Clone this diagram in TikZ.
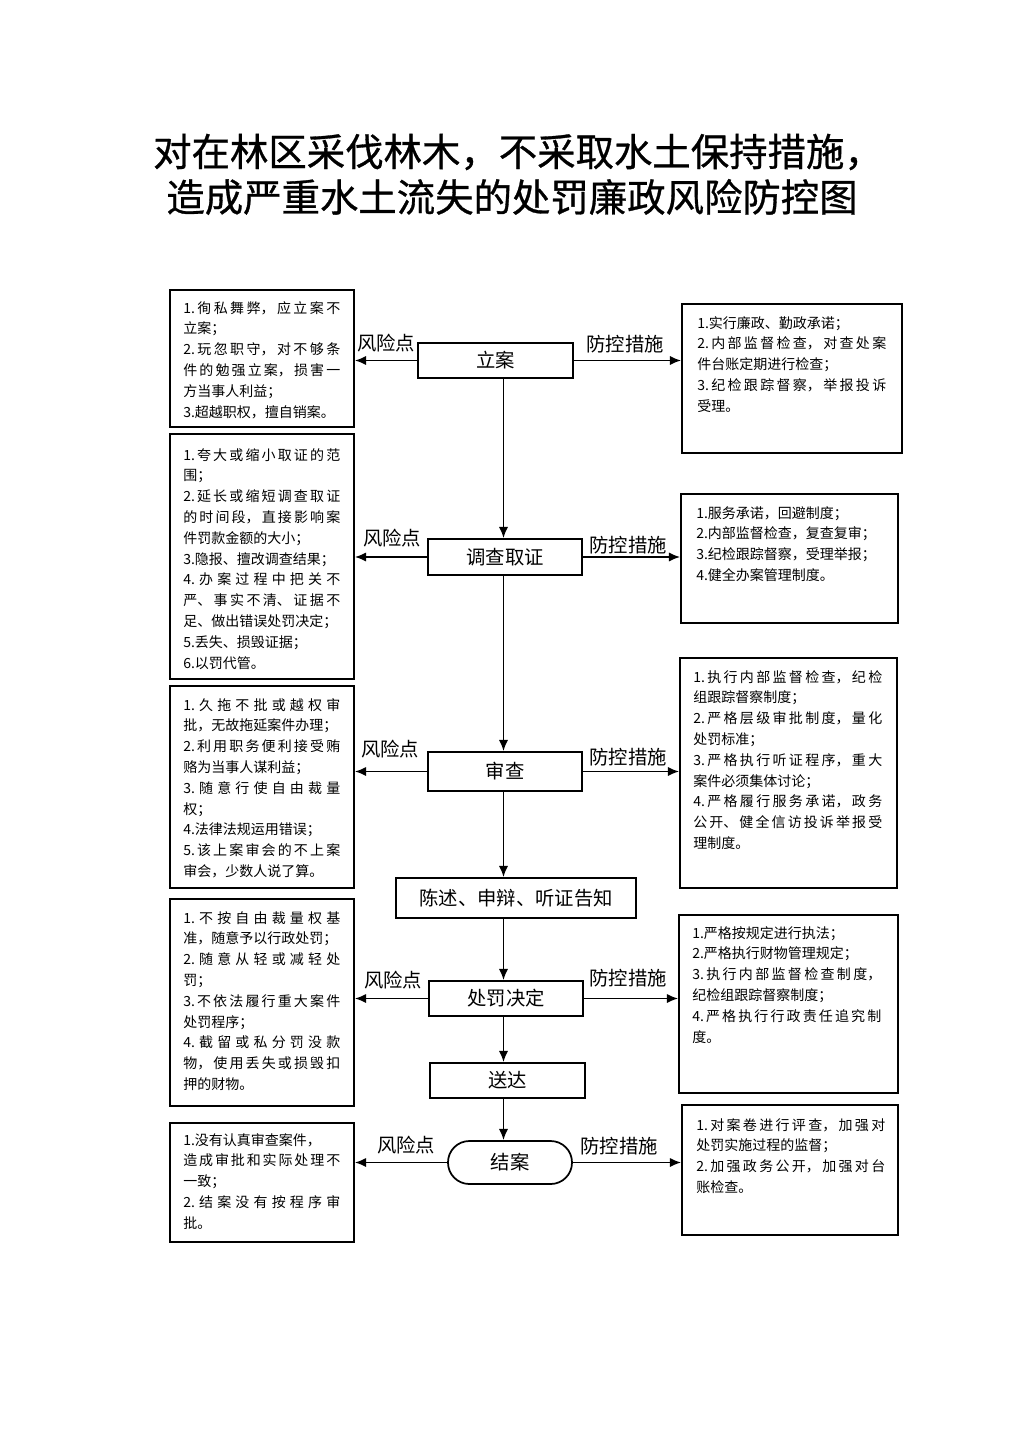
\documentclass[tikz,border=0pt]{standalone}
\usepackage{fontspec}
\setmainfont{Noto Sans CJK SC}
\usetikzlibrary{arrows.meta}
\XeTeXlinebreaklocale "zh"
\XeTeXlinebreakskip=0pt plus 4pt minus 0.3pt
\newcommand{\pxu}{0.75pt}
\newcommand{\boxfont}{\fontsize{10.5pt}{15.6pt}\selectfont\tolerance=9999\hbadness=10000\relax}
\newcommand{\lblfont}{\fontsize{14.5pt}{17pt}\selectfont}
\newcommand{\ttlfont}{\fontsize{28.8pt}{34pt}\selectfont\addfontfeature{FakeBold=0.8}}
\tikzset{
  frame/.style={draw, line width=1.3pt, inner sep=0pt},
  stepnode/.style={draw, line width=1.3pt, inner sep=0pt, font=\lblfont},
  ltxt/.style={anchor=base west, inner sep=0pt, text width=157*\pxu, align=justify, font=\boxfont},
  rtxt/.style={anchor=base west, inner sep=0pt, text width=189*\pxu, align=justify, font=\boxfont},
  lbl/.style={inner sep=0pt, font=\lblfont},
  arr/.style={line width=1.2pt, -{Latex[length=8.5pt,width=7pt]}}
}
\begin{document}
\begin{tikzpicture}[x=0.75pt, y=-0.75pt]
\useasboundingbox (0,0) rectangle (1024,1449);
% title
\node[inner sep=0pt, font=\ttlfont] (t1) at (518,152) {对在林区采伐林木，不采取水土保持措施，};
\node[inner sep=0pt, font=\ttlfont] (t2) at (512,197) {造成严重水土流失的处罚廉政风险防控图};

% center flow
\node[stepnode, minimum width=155*\pxu, minimum height=35*\pxu] (lian) at (495.5,360.5) {立案};
\node[stepnode, minimum width=154*\pxu, minimum height=36*\pxu] (dc) at (505,557) {调查取证};
\node[stepnode, minimum width=154*\pxu, minimum height=39*\pxu] (sc) at (505,771.5) {审查};
\node[stepnode, minimum width=240*\pxu, minimum height=40*\pxu] (cs) at (516,898) {陈述、申辩、听证告知};
\node[stepnode, minimum width=154*\pxu, minimum height=35*\pxu] (cf) at (506,998.5) {处罚决定};
\node[stepnode, minimum width=155*\pxu, minimum height=35*\pxu] (sd) at (507.5,1080.5) {送达};
\node[stepnode, minimum width=124*\pxu, minimum height=43*\pxu, rounded corners=16pt] (ja) at (510,1162.5) {结案};

% left boxes
\node[frame, minimum width=184*\pxu, minimum height=137*\pxu] (L1) at (262,358.5) {};
\node[frame, minimum width=184*\pxu, minimum height=245*\pxu] (L2) at (262,556.5) {};
\node[frame, minimum width=184*\pxu, minimum height=202*\pxu] (L3) at (262,787) {};
\node[frame, minimum width=184*\pxu, minimum height=207*\pxu] (L4) at (262,1002.5) {};
\node[frame, minimum width=184*\pxu, minimum height=119*\pxu] (L5) at (262,1182.5) {};

% right boxes
\node[frame, minimum width=220*\pxu, minimum height=149*\pxu] (R1) at (792,378.5) {};
\node[frame, minimum width=217*\pxu, minimum height=129*\pxu] (R2) at (789.5,558.5) {};
\node[frame, minimum width=217*\pxu, minimum height=230*\pxu] (R3) at (788.5,773) {};
\node[frame, minimum width=219*\pxu, minimum height=178*\pxu] (R4) at (788.5,1004) {};
\node[frame, minimum width=216*\pxu, minimum height=130*\pxu] (R5) at (790,1170) {};

% left texts
\node[ltxt] (L1t) at (183,313) {1.徇私舞弊，应立案不\linebreak
立案；\\
2.玩忽职守，对不够条\linebreak
件的勉强立案，损害一\linebreak
方当事人利益；\\
3.超越职权，擅自销案。};

\node[ltxt] (L2t) at (183,460) {1.夸大或缩小取证的范\linebreak
围；\\
2.延长或缩短调查取证\linebreak
的时间段，直接影响案\linebreak
件罚款金额的大小；\\
3.隐报、擅改调查结果；\\
4.办案过程中把关不\linebreak
严、事实不清、证据不\linebreak
足、做出错误处罚决定；\\
5.丢失、损毁证据；\\
6.以罚代管。};

\node[ltxt] (L3t) at (183,710) {1.久拖不批或越权审\linebreak
批，无故拖延案件办理；\\
2.利用职务便利接受贿\linebreak
赂为当事人谋利益；\\
3.随意行使自由裁量\linebreak
权；\\
4.法律法规运用错误；\\
5.该上案审会的不上案\linebreak
审会，少数人说了算。};

\node[ltxt] (L4t) at (183,923) {1.不按自由裁量权基\linebreak
准，随意予以行政处罚；\\
2.随意从轻或减轻处\linebreak
罚；\\
3.不依法履行重大案件\linebreak
处罚程序；\\
4.截留或私分罚没款\linebreak
物，使用丢失或损毁扣\linebreak
押的财物。};

\node[ltxt] (L5t) at (183,1145) {1.没有认真审查案件，\\
造成审批和实际处理不\linebreak
一致；\\
2.结案没有按程序审\linebreak
批。};

% right texts
\node[rtxt] (R1t) at (697,328) {1.实行廉政、勤政承诺；\\
2.内部监督检查，对查处案\linebreak
件台账定期进行检查；\\
3.纪检跟踪督察，举报投诉\linebreak
受理。};

\node[rtxt] (R2t) at (696,518) {1.服务承诺，回避制度；\\
2.内部监督检查，复查复审；\\
3.纪检跟踪督察，受理举报；\\
4.健全办案管理制度。};

\node[rtxt] (R3t) at (693,682) {1.执行内部监督检查，纪检\linebreak
组跟踪督察制度；\\
2.严格层级审批制度，量化\linebreak
处罚标准；\\
3.严格执行听证程序，重大\linebreak
案件必须集体讨论；\\
4.严格履行服务承诺，政务\linebreak
公开、健全信访投诉举报受\linebreak
理制度。};

\node[rtxt] (R4t) at (692,938) {1.严格按规定进行执法；\\
2.严格执行财物管理规定；\\
3.执行内部监督检查制度，\linebreak
纪检组跟踪督察制度；\\
4.严格执行行政责任追究制\linebreak
度。};

\node[rtxt] (R5t) at (696,1130) {1.对案卷进行评查，加强对\linebreak
处罚实施过程的监督；\\
2.加强政务公开，加强对台\linebreak
账检查。};

% vertical flow connectors
\coordinate (sp) at (503.5,0);
\draw[arr] (lian.south -| sp) -- (dc.north -| sp);
\draw[arr] (dc.south -| sp) -- (sc.north -| sp);
\draw[arr] (sc.south -| sp) -- (cs.north -| sp);
\draw[arr] (cs.south -| sp) -- (cf.north -| sp);
\draw[arr] (cf.south -| sp) -- (sd.north -| sp);
\draw[arr] (sd.south -| sp) -- (ja.north -| sp);

% horizontal connectors
\draw[arr] (lian.west) -- (lian.west -| L1.east);
\draw[arr] (lian.east) -- (lian.east -| R1.west);
\draw[arr] (dc.west) -- (dc.west -| L2.east);
\draw[arr] (dc.east) -- (dc.east -| R2.west);
\draw[arr] (sc.west) -- (sc.west -| L3.east);
\draw[arr] (sc.east) -- (sc.east -| R3.west);
\draw[arr] (cf.west) -- (cf.west -| L4.east);
\draw[arr] (cf.east) -- (cf.east -| R4.west);
\draw[arr] (ja.west) -- (ja.west -| L5.east);
\draw[arr] (ja.east) -- (ja.east -| R5.west);

% labels
\node[lbl] (f1) at (386,343) {风险点};
\node[lbl] (p1) at (625,344) {防控措施};
\node[lbl] (f2) at (392,538) {风险点};
\node[lbl] (p2) at (628,545) {防控措施};
\node[lbl] (f3) at (390,749) {风险点};
\node[lbl] (p3) at (628,757) {防控措施};
\node[lbl] (f4) at (393,980) {风险点};
\node[lbl] (p4) at (628,978) {防控措施};
\node[lbl] (f5) at (406,1145) {风险点};
\node[lbl] (p5) at (619,1146) {防控措施};
\end{tikzpicture}
\end{document}
